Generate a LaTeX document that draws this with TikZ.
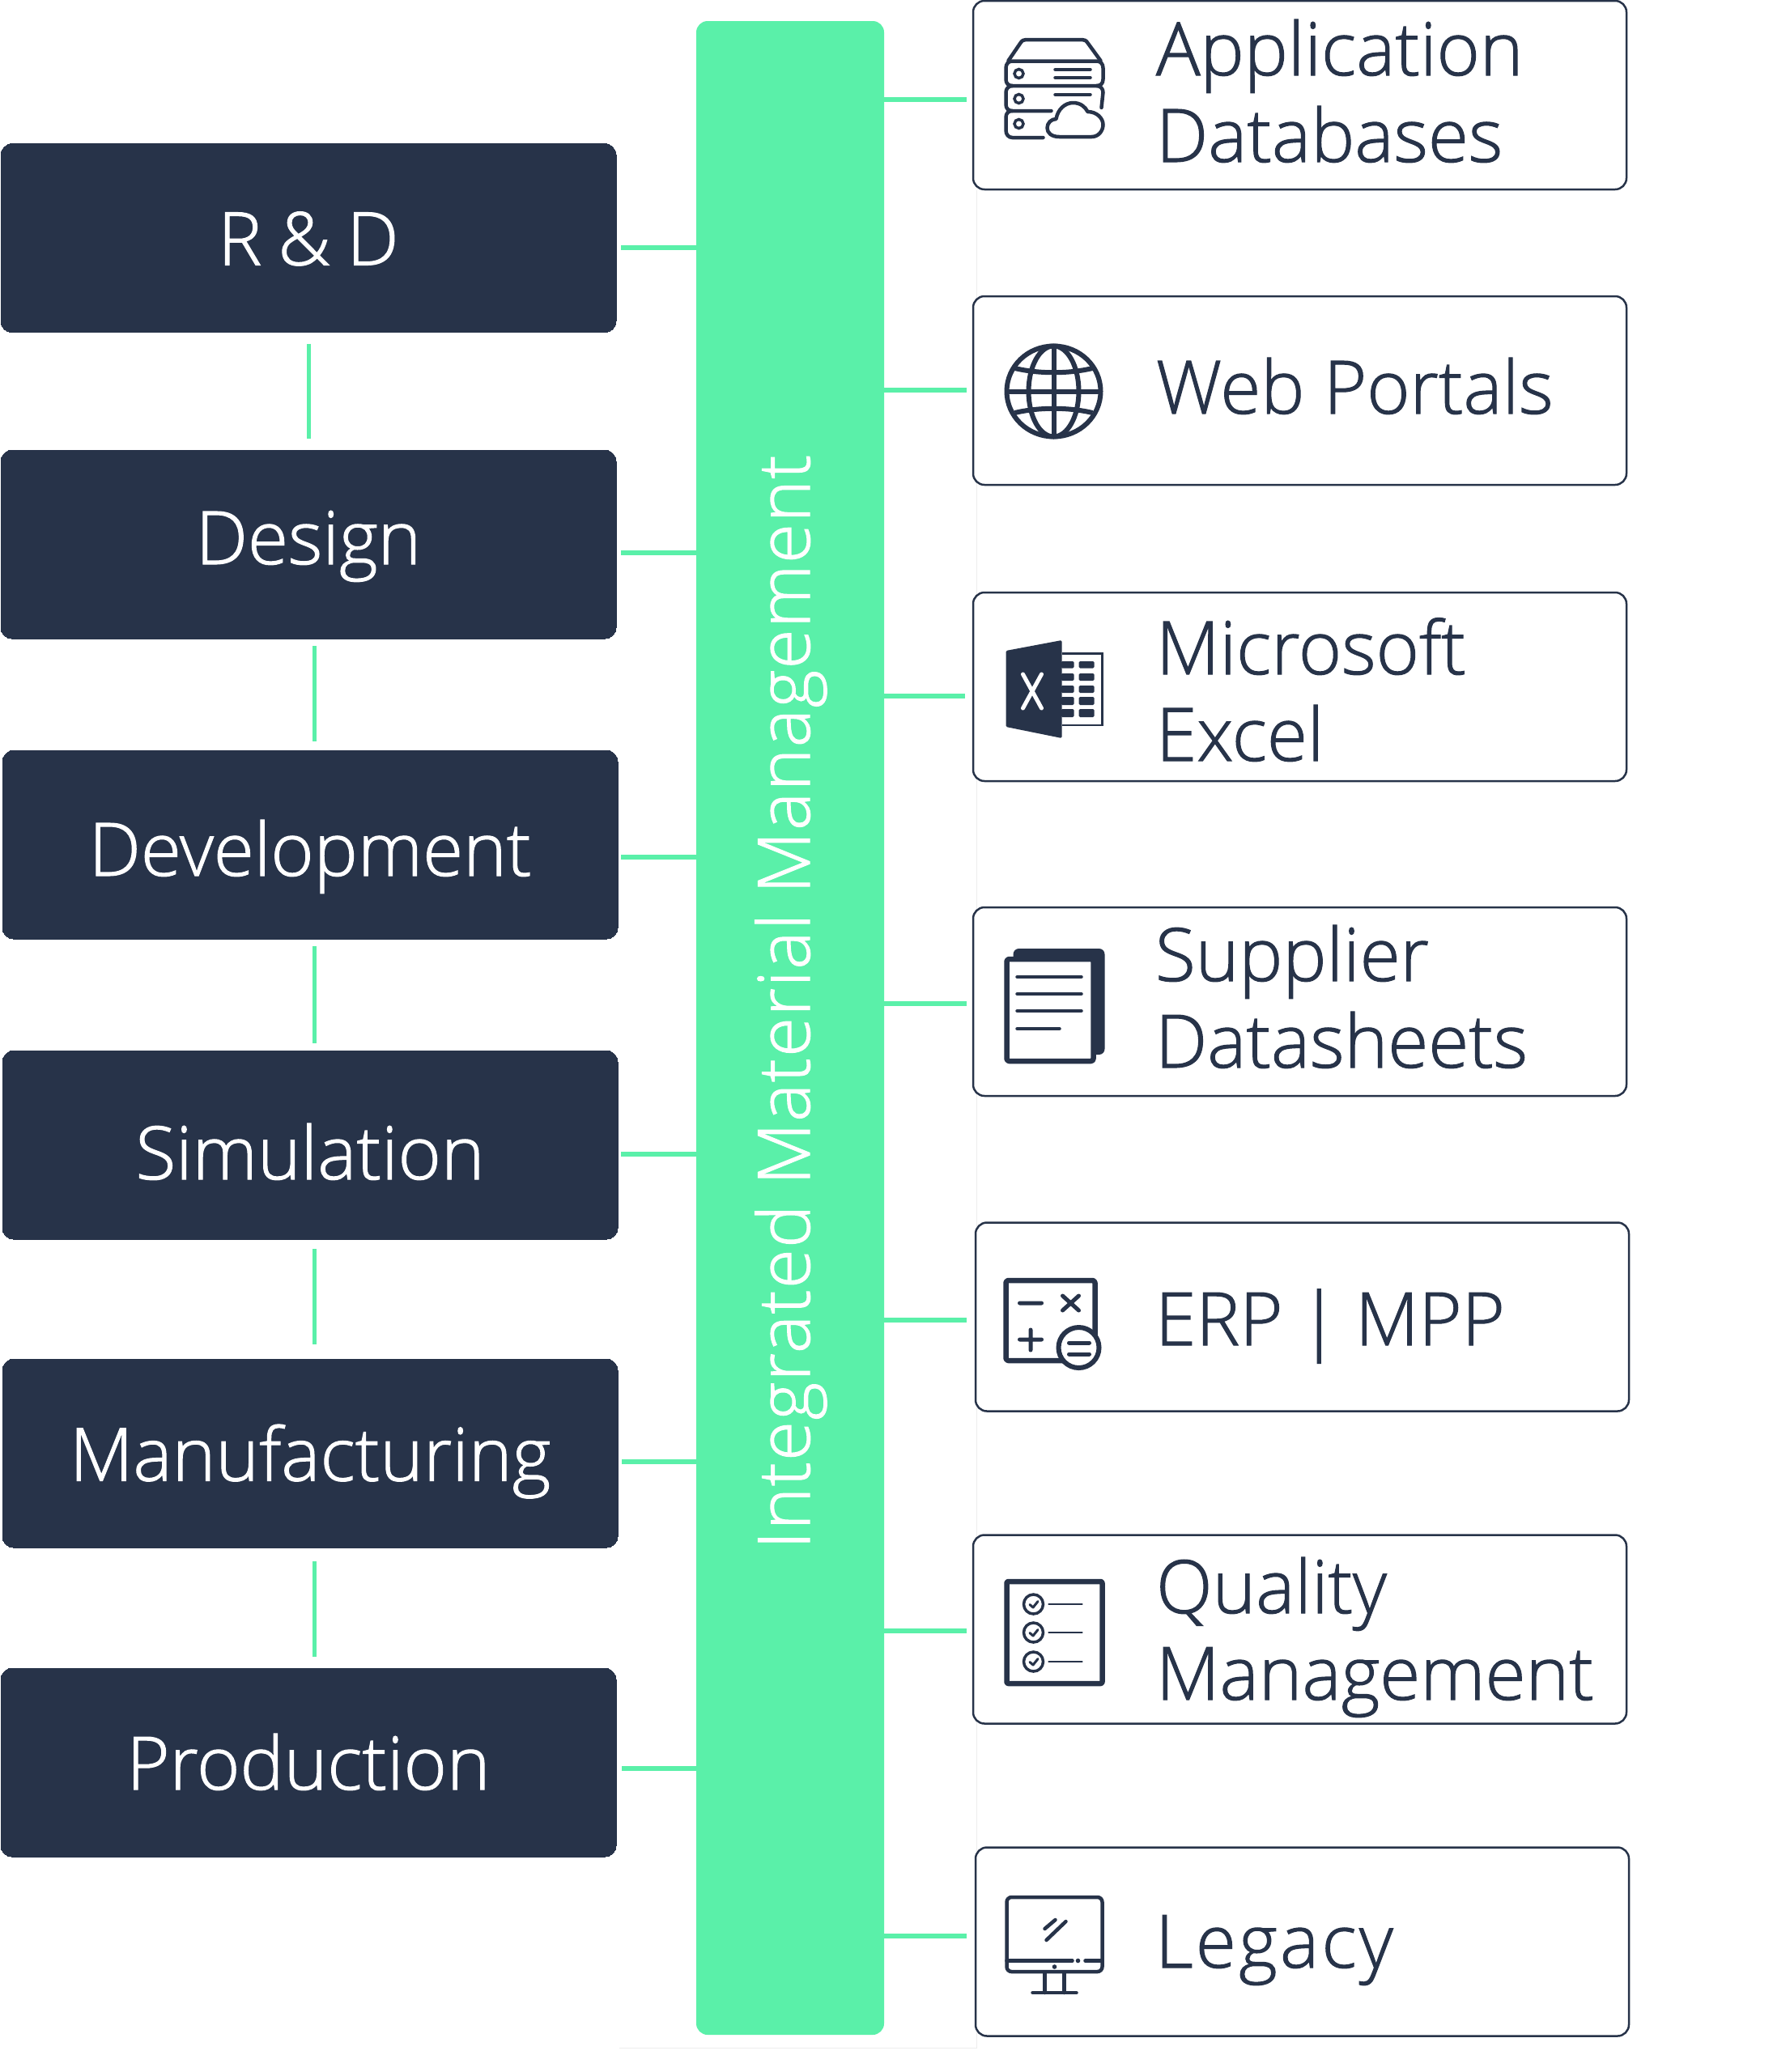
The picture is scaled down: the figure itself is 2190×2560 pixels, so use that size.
\documentclass[tikz,border=0pt]{standalone}
\usepackage{fontspec}
\setmainfont{Open Sans Light}[FakeBold=1.2]
\newfontfamily\barfont{Open Sans Light}[LetterSpace=1.7,FakeBold=1.2]
\newfontfamily\tightfont{Open Sans Light}[WordSpace=0.85,FakeBold=1.2]
\newfontfamily\legacyfont{Open Sans Light}[LetterSpace=3.6,FakeBold=1.2]
\usetikzlibrary{calc}
\definecolor{navy}{HTML}{273349}
\definecolor{mint}{HTML}{5AF0A9}
\tikzset{
  leftbox/.style={draw=navy,fill=navy,line width=0pt,rounded corners=14pt,minimum width=760pt,minimum height=233pt,inner sep=0pt,outer sep=0pt,text=white,font=\fontsize{91}{108}\selectfont,text depth=40pt,text height=#1},
  rightbox/.style={draw=navy,fill=white,line width=2.5pt,rounded corners=14pt,minimum width=807pt,minimum height=233pt,inner sep=0pt,outer sep=0pt},
  lab/.style={anchor=base west,inner sep=0pt,outer sep=0pt,text=navy,align=left,font=\fontsize{91}{107}\selectfont},
  conn/.style={draw=mint,line width=5.5pt},
  thinconn/.style={draw=mint,line width=5pt},
  ic/.style={draw=navy,line width=4.5pt,line cap=round,line join=round},
  icthick/.style={draw=navy,line width=6.5pt,line cap=round,line join=round},
}
\begin{document}
\begin{tikzpicture}[x=1pt,y=-1pt]
\useasboundingbox (0,0) rectangle (2190,2560);
\fill[white] (0,0) rectangle (2190,2560);
% faint frame
\draw[black!7,line width=1pt] (1206,235) -- (1206,2530) -- (765,2530);
% central bar
\node[fill=mint,rounded corners=14pt,minimum width=232pt,minimum height=2488pt,inner sep=0pt,outer sep=0pt] (bar) at (976,1270) {};
\node[rotate=90,text=white,inner sep=0pt,font=\fontsize{89}{100}\barfont,anchor=base] (bartext) at (1000,1238) {Integrated Material Management};
% left boxes
\node[leftbox=107pt] (rd) at (381,294) {{\tightfont R \& D}};
\node[leftbox=89pt] (design) at (381,672.5) {Design};
\node[leftbox=117pt] (dev) at (383,1043.5) {Development};
\node[leftbox=125pt] (sim) at (383,1414.5) {Simulation};
\node[leftbox=108pt] (manu) at (383,1795.5) {Manufacturing};
\node[leftbox=107pt] (prod) at (381,2177.5) {Production};
% right boxes
\node[rightbox] (db) at (1605.5,117.5) {};
\node[rightbox] (web) at (1605.5,482.5) {};
\node[rightbox] (xl) at (1605.5,848.5) {};
\node[rightbox] (sup) at (1605.5,1237.5) {};
\node[rightbox] (erp) at (1608.5,1627) {};
\node[rightbox] (qm) at (1605.5,2013) {};
\node[rightbox] (leg) at (1608.5,2399) {};
% vertical connectors
\draw[thinconn] ([xshift=0pt,yshift=-14pt]rd.south) -- ([yshift=14pt]design.north);
\draw[thinconn] ([xshift=7pt,yshift=-9pt]design.south) -- ([xshift=5pt,yshift=11pt]dev.north);
\draw[thinconn] ([xshift=5pt,yshift=-9pt]dev.south) -- ([xshift=5pt,yshift=9pt]sim.north);
\draw[thinconn] ([xshift=5pt,yshift=-12pt]sim.south) -- ([xshift=5pt,yshift=18pt]manu.north);
\draw[thinconn] ([xshift=5pt,yshift=-17pt]manu.south) -- ([xshift=7pt,yshift=14pt]prod.north);
% left horizontals
\draw[conn] ([xshift=6pt,yshift=-12pt]rd.east) -- ($(bar.west|-rd.east)+(0,12)$);
\draw[conn] ([xshift=6pt,yshift=-10.5pt]design.east) -- ($(bar.west|-design.east)+(0,10.5)$);
\draw[conn] ([xshift=4pt,yshift=-15.5pt]dev.east) -- ($(bar.west|-dev.east)+(0,15.5)$);
\draw[conn] ([xshift=4pt,yshift=-11.5pt]sim.east) -- ($(bar.west|-sim.east)+(0,11.5)$);
\draw[conn] ([xshift=5pt,yshift=-10.5pt]manu.east) -- ($(bar.west|-manu.east)+(0,10.5)$);
\draw[conn] ([xshift=7pt,yshift=-7.5pt]prod.east) -- ($(bar.west|-prod.east)+(0,7.5)$);
% right horizontals
\draw[conn] ($(bar.east|-db.west)+(0,5.5)$) -- ([xshift=-8pt,yshift=-5.5pt]db.west);
\draw[conn] ($(bar.east|-web.west)+(0,-0.5)$) -- ([xshift=-8pt,yshift=0.5pt]web.west);
\draw[conn] ($(bar.east|-xl.west)+(0,11.5)$) -- ([xshift=-10pt,yshift=-11.5pt]xl.west);
\draw[conn] ($(bar.east|-sup.west)+(0,2.5)$) -- ([xshift=-8pt,yshift=-2.5pt]sup.west);
\draw[conn] ($(bar.east|-erp.west)+(0,4)$) -- ([xshift=-11pt,yshift=-4pt]erp.west);
\draw[conn] ($(bar.east|-qm.west)+(0,2)$) -- ([xshift=-8pt,yshift=-2pt]qm.west);
\draw[conn] ($(bar.east|-leg.west)+(0,-7)$) -- ([xshift=-11pt,yshift=7pt]leg.west);
% right labels
\node[lab] (t1) at (1428,200) {Application\\Databases};
\node[lab] (t2) at (1428,511) {Web Portals};
\node[lab] (t3) at (1428,940) {Microsoft\\Excel};
\node[lab] (t4) at (1427,1319) {Supplier\\Datasheets};
\node[lab] (t5) at (1427,1662) {\tightfont ERP | MPP};
\node[lab] (t6) at (1428,2100) {Quality\\Management};
\node[lab] (t7) at (1427,2431) {\legacyfont Legacy};
\begin{scope}[xshift=-1.5pt]
% icon 1: server with cloud
\draw[ic] (1247,75) -- (1262,53) .. controls (1264,50) and (1266,49) .. (1269,49) -- (1338,49) .. controls (1341,49) and (1343,50) .. (1345,53) -- (1361,75);
\draw[ic] (1252,75.5) -- (1356,75.5) .. controls (1361,75.5) and (1364,79) .. (1364,84) -- (1364,98) .. controls (1364,103) and (1361,106) .. (1356,106) -- (1252,106) .. controls (1247,106) and (1244,103) .. (1244,98) -- (1244,84) .. controls (1244,79) and (1247,75.5) .. (1252,75.5);
\draw[ic] (1300,137) -- (1252,137) .. controls (1247,137) and (1244,134) .. (1244,129) -- (1244,114) .. controls (1244,110) and (1247,106) .. (1252,106);
\draw[ic] (1356,106) .. controls (1361,106) and (1364,110) .. (1364,114) -- (1362,133);
\draw[ic] (1252,137) .. controls (1247,137) and (1244,140) .. (1244,145) -- (1244,161) .. controls (1244,166) and (1247,170) .. (1252,170) -- (1290,170);
\foreach \yy in {91,122,153} \draw[navy,line width=3.5pt] (1260,\yy) circle (5.5pt);
\draw[ic] (1305,86) -- (1348,86) (1305,96) -- (1348,96) (1305,117) -- (1348,117);
\draw[ic] (1310,169) .. controls (1300,169) and (1295,164) .. (1295,158) .. controls (1295,152) and (1300,147) .. (1306,147) .. controls (1308,135) and (1317,127) .. (1327,127) .. controls (1336,127) and (1342,132) .. (1345,138) .. controls (1356,138) and (1364,146) .. (1364,154) .. controls (1364,162) and (1358,169) .. (1350,169) -- cycle;
% icon 2: globe
\draw[navy,line width=6pt] (1303,483.5) ellipse [x radius=58pt,y radius=56pt];
\draw[navy,line width=6pt] (1303,483.5) ellipse [x radius=31pt,y radius=56pt];
\draw[navy,line width=6pt] (1303,427) -- (1303,540) (1246,483.5) -- (1360,483.5);
\draw[navy,line width=6pt] (1255,455) .. controls (1285,462) and (1321,462) .. (1351,455);
\draw[navy,line width=6pt] (1255,510) .. controls (1285,503) and (1321,503) .. (1351,510);
% icon 3: excel
\fill[navy,rounded corners=1.5pt] (1244,804) -- (1313,791) -- (1313,912) -- (1244,898) -- cycle;
\draw[white,line width=5pt,line cap=round] (1265,833) -- (1288,875) (1288,833) -- (1265,875);
\draw[navy,line width=2.8pt] (1313,807.5) -- (1363,807.5) -- (1363,896) -- (1313,896);
\foreach \ya/\yb in {817/825.5,832/841,847/856,861/871,876/886}{
  \fill[navy,rounded corners=1.5pt] (1312,\ya) rectangle (1328,\yb);
  \fill[navy,rounded corners=1.5pt] (1334,\ya) rectangle (1353,\yb);
}
% icon 4: document
\fill[navy,rounded corners=7pt] (1253,1172) rectangle (1366,1303);
\draw[navy,fill=white,line width=6.5pt,line join=round,rounded corners=3pt] (1245,1185) rectangle (1352,1311);
\draw[ic] (1258,1207) -- (1337,1207) (1258,1228) -- (1337,1228) (1258,1249) -- (1337,1249) (1258,1271) -- (1310,1271);
% icon 5: calculator
\draw[icthick,rounded corners=3pt] (1244,1582) rectangle (1354,1681);
\draw[navy,line width=5pt,line cap=round] (1261,1610) -- (1288,1610) (1314,1601) -- (1334,1619) (1334,1601) -- (1314,1619) (1261,1655) -- (1288,1655) (1274.5,1643) -- (1274.5,1668);
\draw[navy,fill=white,line width=6pt] (1334,1665) circle (25pt);
\draw[navy,line width=5pt,line cap=round] (1322,1659) -- (1347,1659) (1322,1673) -- (1347,1673);
% icon 6: checklist
\draw[icthick,rounded corners=2pt] (1245,1954) rectangle (1363,2080);
\foreach \yy in {1982,2017,2053}{
  \draw[navy,line width=3.5pt] (1278,\yy) circle (12pt);
  \draw[navy,line width=3pt,line cap=round,line join=round] (1273.5,\yy+0.5) -- (1277.5,\yy+4) -- (1283.5,\yy-3.5);
  \draw[navy,line width=2.6pt,line cap=round] (1297,\yy) -- (1338,\yy);
}
% icon 7: monitor
\draw[ic,rounded corners=6pt] (1245,2344) rectangle (1363,2436);
\draw[ic] (1245,2422.5) -- (1326,2422.5) (1342,2422.5) -- (1363,2422.5);
\fill[navy] (1333,2422.5) circle (2.8pt) (1304,2430) circle (2.8pt);
\draw[ic] (1292,2438) -- (1292,2462) (1316,2438) -- (1316,2462) (1277,2462) -- (1331,2462);
\draw[ic] (1292,2383) -- (1305,2372) (1294,2397) -- (1318,2374);
\end{scope}
\end{tikzpicture}
\end{document}
